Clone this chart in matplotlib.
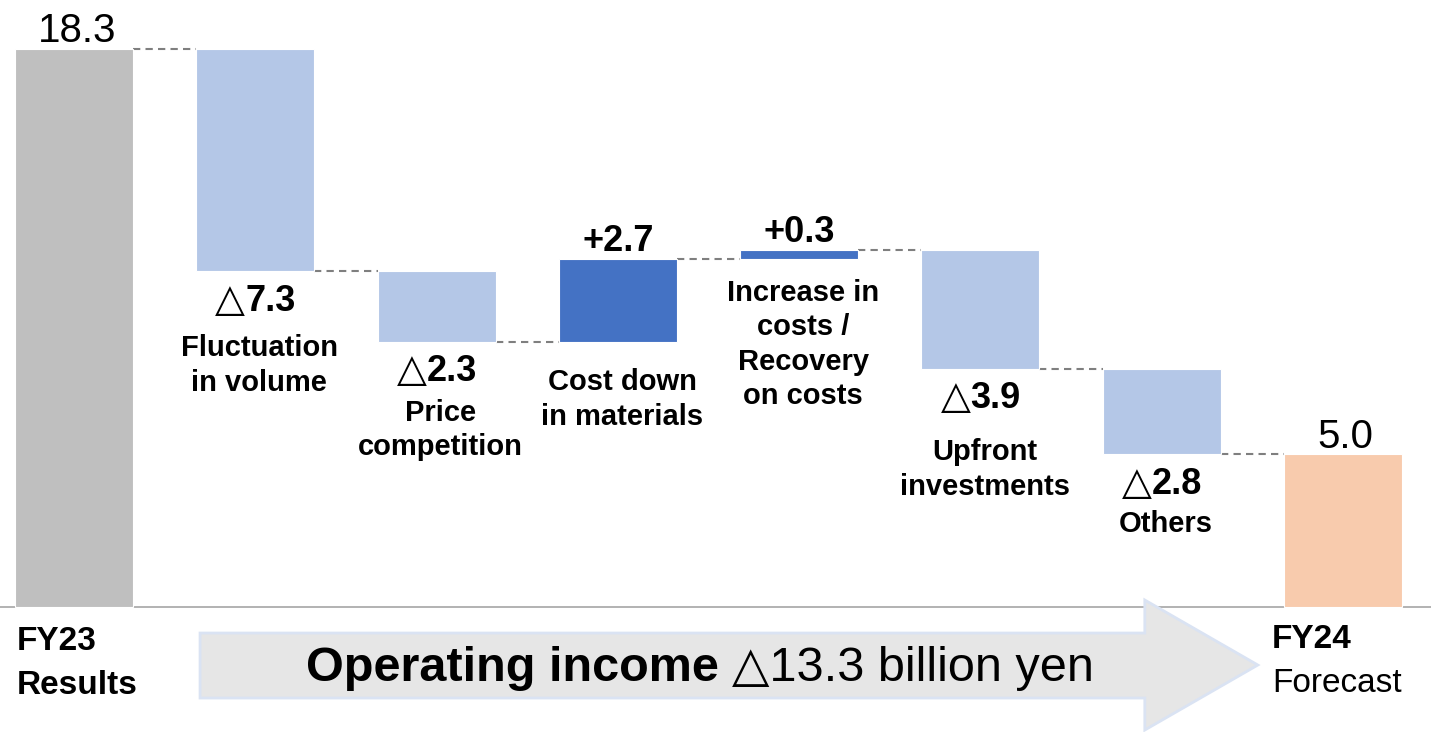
import matplotlib.pyplot as plt
from matplotlib.patches import Polygon
from matplotlib.offsetbox import TextArea, HPacker, AnnotationBbox

plt.rcParams['font.family'] = ['Liberation Sans', 'DejaVu Sans']

# operating income bridge, billion yen
steps = ["FY23", "Fluctuation\nin volume", "Price\ncompetition", "Cost down\nin materials",
         "Increase in\ncosts /\nRecovery\non costs", "Upfront\ninvestments", "Others", "FY24"]
values = [18.3, -7.3, -2.3, 2.7, 0.3, -3.9, -2.8, 5.0]
kinds = ["total", "delta", "delta", "delta", "delta", "delta", "delta", "total"]

# how far (points) each step name sits below its bar
name_drop = [0, 45, 41, 19, 14, 50, 40, 0]

col_start = "#bfbfbf"
col_down = "#b4c7e7"
col_up = "#4472c4"
col_end = "#f8cbad"

fig = plt.figure(figsize=(14.31, 7.32), dpi=100)
ax = fig.add_axes([0, 0, 1, 1])
ax.set_xlim(-0.408, 7.485)
ax.set_ylim(-4.1, 19.9)
ax.axis('off')

w = 0.651
running = 0.0
tops = []
for i, (v, k) in enumerate(zip(values, kinds)):
    if k == "total":
        bottom, height = 0, v
        running = v
        color = col_start if i == 0 else col_end
    else:
        bottom = running if v > 0 else running + v
        height = abs(v)
        running += v
        color = col_up if v > 0 else col_down
    ax.bar(i, height, bottom=bottom, width=w, color=color, edgecolor='white', linewidth=0.8, zorder=2)
    tops.append((bottom, bottom + height, running))

# dashed connectors between bars
for i in range(len(values) - 1):
    lvl = tops[i][2]
    ax.plot([i + w / 2, i + 1 - w / 2], [lvl, lvl], color='#7f7f7f', lw=1.5,
            dashes=(3.5, 2.5), zorder=1)

ax.axhline(0, color='#a6a6a6', lw=1.2, zorder=1)

# value labels and step names
for i, (v, k) in enumerate(zip(values, kinds)):
    lo, hi, _ = tops[i]
    if k == "total":
        ax.annotate(f"{v:.1f}", (i, hi), xytext=(2, -1), textcoords='offset points',
                    ha='center', va='bottom', fontsize=29)
        continue
    if v > 0:
        ax.annotate(f"+{v:.1f}", (i, hi), xytext=(0, 0), textcoords='offset points',
                    ha='center', va='bottom', fontsize=26, fontweight='bold')
    else:
        box = HPacker(children=[TextArea("△", textprops=dict(fontsize=28)),
                                TextArea(f"{abs(v):.1f}", textprops=dict(fontsize=26, fontweight='bold'))],
                      sep=0, pad=0, align='baseline')
        ax.add_artist(AnnotationBbox(box, (i, lo), xybox=(0, -21), boxcoords='offset points',
                                     frameon=False, box_alignment=(0.5, 0.5)))
    ax.annotate(steps[i], (i, lo), xytext=(3, -name_drop[i]), textcoords='offset points',
                ha='center', va='top', fontsize=21, fontweight='bold', linespacing=1.3)

# bottom arrow banner
arrow = Polygon([(0.1398, 0.1352), (0.800, 0.1352), (0.800, 0.1803), (0.879, 0.0915),
                 (0.800, 0.0027), (0.800, 0.0464), (0.1398, 0.0464)],
                closed=True, transform=ax.transAxes, facecolor='#e6e6e6',
                edgecolor='#dae3f3', lw=2, zorder=3)
ax.add_patch(arrow)
banner = HPacker(children=[TextArea("Operating income ", textprops=dict(fontsize=35, fontweight='bold')),
                           TextArea("△13.3 billion yen", textprops=dict(fontsize=35))],
                 sep=0, pad=0, align='baseline')
ax.add_artist(AnnotationBbox(banner, (0.489, 0.0874), xycoords=ax.transAxes, frameon=False,
                             box_alignment=(0.5, 0.5), zorder=4))

ax.text(0.012, 0.123, "FY23", transform=ax.transAxes, ha='left', va='center',
        fontsize=24, fontweight='bold')
ax.text(0.012, 0.064, "Results", transform=ax.transAxes, ha='left', va='center',
        fontsize=24, fontweight='bold')
ax.text(0.889, 0.126, "FY24", transform=ax.transAxes, ha='left', va='center',
        fontsize=24, fontweight='bold')
ax.text(0.889, 0.066, "Forecast", transform=ax.transAxes, ha='left', va='center',
        fontsize=24)

fig.savefig("out.png", dpi=100)
